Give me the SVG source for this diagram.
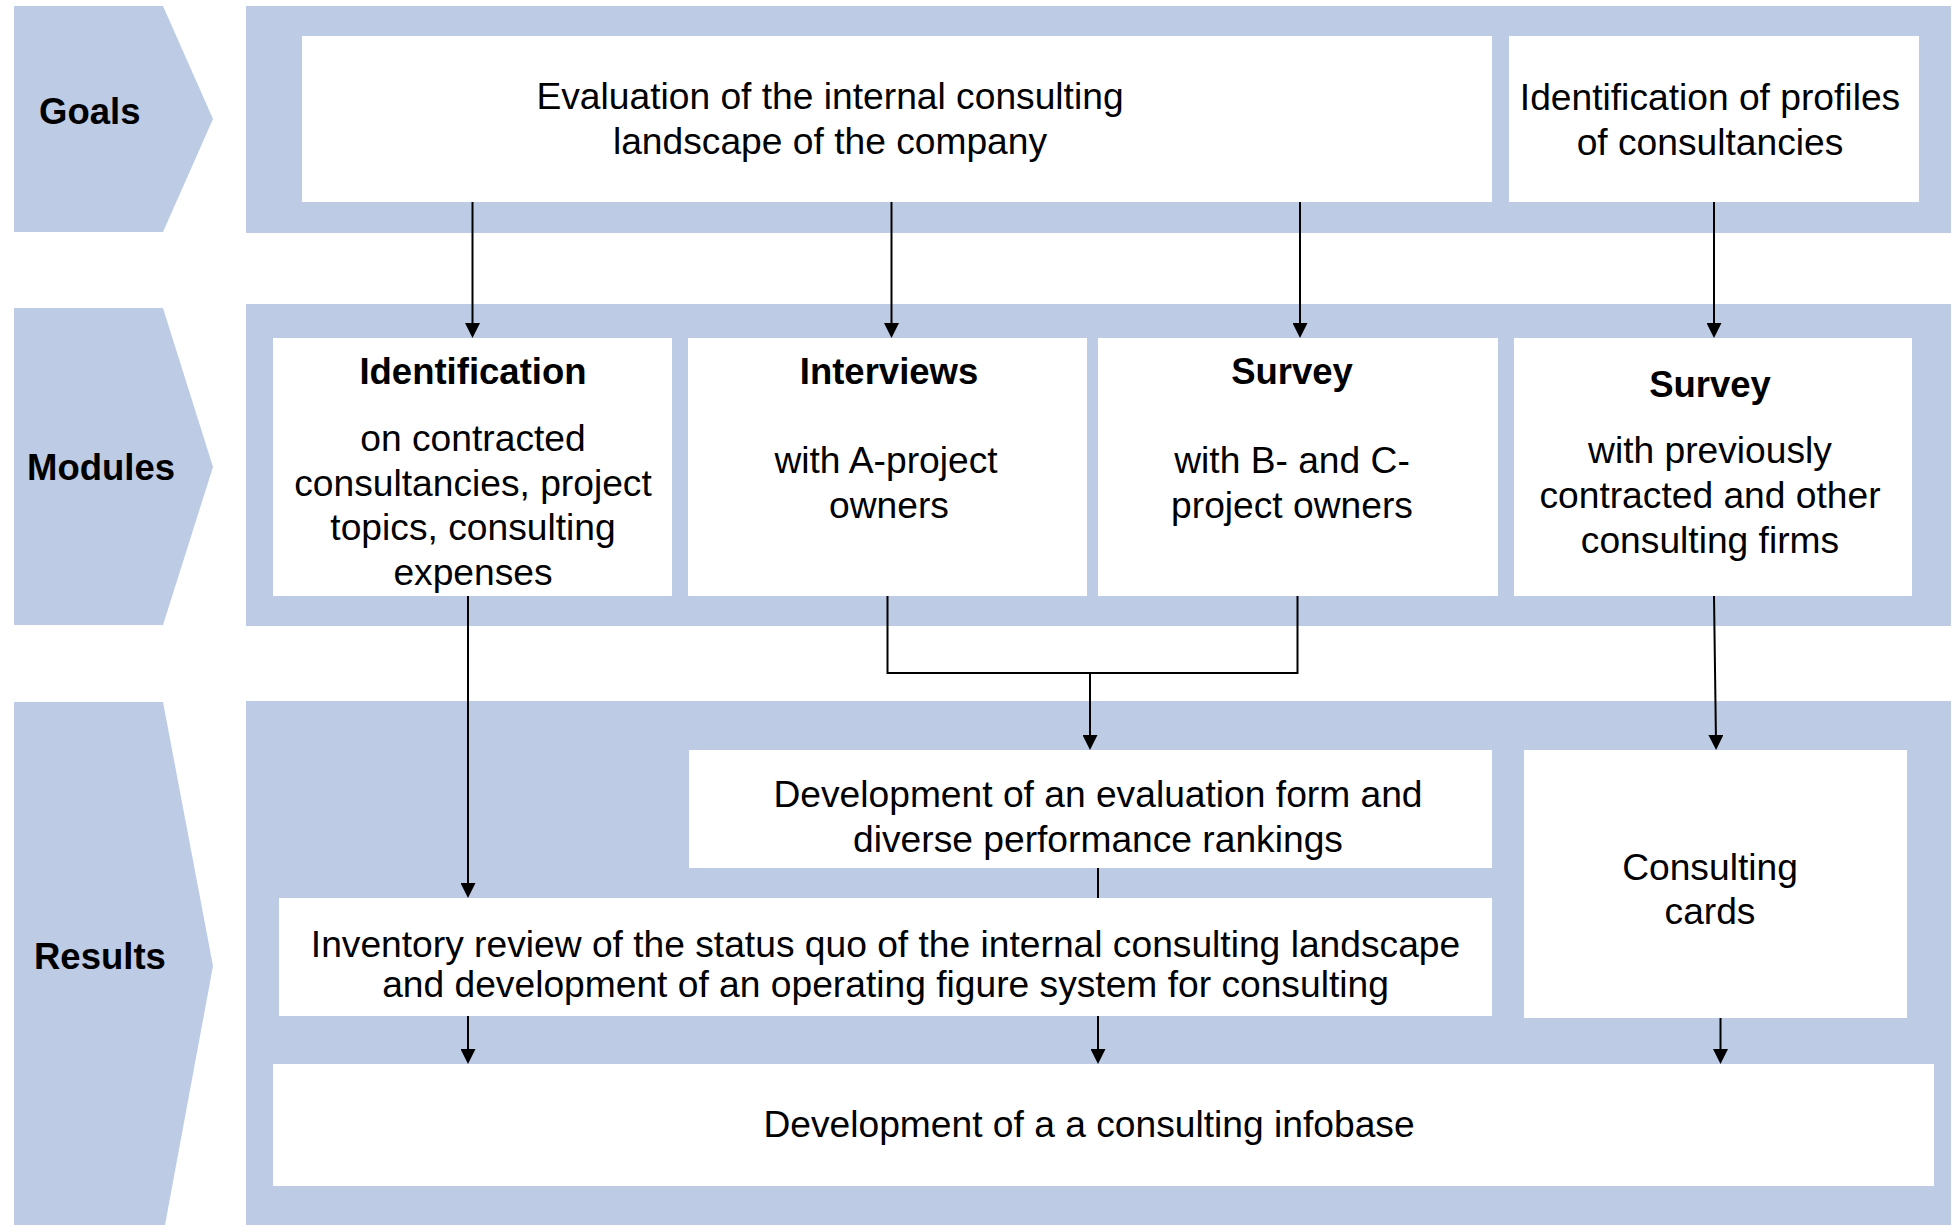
<svg xmlns="http://www.w3.org/2000/svg" width="1955" height="1225" viewBox="0 0 1955 1225">
  <style>
    .band { fill: #BDCBE4; }
    .box { fill: #FFFFFF; }
    .lbl { font-family: "Liberation Sans", Arial, sans-serif; font-weight: bold; font-size: 36.5px; fill: #000; }
    .head { font-family: "Liberation Sans", Arial, sans-serif; font-weight: bold; font-size: 36.5px; fill: #000; text-anchor: middle; }
    .txt { font-family: "Liberation Sans", Arial, sans-serif; font-size: 37.2px; fill: #000; text-anchor: middle; }
    .conn { fill: none; stroke: #000; stroke-width: 2; }
  </style>
  <defs>
    <marker id="arrow" markerUnits="userSpaceOnUse" markerWidth="15" markerHeight="15" viewBox="0 0 15 15" refX="7" refY="7.5" orient="auto">
      <path d="M0,0 L15,7.5 L0,15 z" fill="#000"/>
    </marker>
  </defs>

  <rect width="1955" height="1225" fill="#FFFFFF"/>

  <!-- Row chevrons -->
  <g id="goals-label">
    <polygon class="band" points="14,6 163,6 213,119 163,232 14,232"/>
    <text class="lbl" x="39" y="124">Goals</text>
  </g>
  <g id="modules-label">
    <polygon class="band" points="14,308 163,308 213,467 163,625 14,625"/>
    <text class="lbl" x="27" y="480">Modules</text>
  </g>
  <g id="results-label">
    <polygon class="band" points="14,702 163,702 213,966 165,1225 14,1225"/>
    <text class="lbl" x="34" y="969">Results</text>
  </g>

  <!-- Row backgrounds -->
  <g id="row-bands">
    <rect class="band" x="246" y="6" width="1705" height="227"/>
    <rect class="band" x="246" y="304" width="1705" height="322"/>
    <rect class="band" x="246" y="701" width="1705" height="524"/>
  </g>

  <!-- Goals -->
  <g id="goal-evaluation">
    <rect class="box" x="302" y="36" width="1190" height="166"/>
    <text class="txt" x="830" y="109">Evaluation of the internal consulting</text>
    <text class="txt" x="830" y="154">landscape of the company</text>
  </g>
  <g id="goal-profiles">
    <rect class="box" x="1509" y="36" width="410" height="166"/>
    <text class="txt" x="1710" y="110">Identification of profiles</text>
    <text class="txt" x="1710" y="155">of consultancies</text>
  </g>

  <!-- Modules -->
  <g id="module-identification">
    <rect class="box" x="273" y="338" width="399" height="258"/>
    <text class="head" x="473" y="384">Identification</text>
    <text class="txt" x="473" y="451">on contracted</text>
    <text class="txt" x="473" y="495.5">consultancies, project</text>
    <text class="txt" x="473" y="540">topics, consulting</text>
    <text class="txt" x="473" y="584.5">expenses</text>
  </g>
  <g id="module-interviews">
    <rect class="box" x="688" y="338" width="399" height="258"/>
    <text class="head" x="889" y="384">Interviews</text>
    <text class="txt" x="886" y="472.5">with A-project</text>
    <text class="txt" x="889" y="517.5">owners</text>
  </g>
  <g id="module-survey-bc">
    <rect class="box" x="1098" y="338" width="400" height="258"/>
    <text class="head" x="1292" y="384">Survey</text>
    <text class="txt" x="1292" y="472.5">with B- and C-</text>
    <text class="txt" x="1292" y="517.5">project owners</text>
  </g>
  <g id="module-survey-firms">
    <rect class="box" x="1514" y="338" width="398" height="258"/>
    <text class="head" x="1710" y="397">Survey</text>
    <text class="txt" x="1710" y="463">with previously</text>
    <text class="txt" x="1710" y="508">contracted and other</text>
    <text class="txt" x="1710" y="553">consulting firms</text>
  </g>

  <!-- Results -->
  <g id="result-evaluation-form">
    <rect class="box" x="689" y="750" width="803" height="118"/>
    <text class="txt" x="1098" y="806.5">Development of an evaluation form and</text>
    <text class="txt" x="1098" y="851.5">diverse performance rankings</text>
  </g>
  <g id="result-inventory">
    <rect class="box" x="279" y="898" width="1213" height="118"/>
    <text class="txt" x="885.5" y="956.5">Inventory review of the status quo of the internal consulting landscape</text>
    <text class="txt" x="885.5" y="996.5">and development of an operating figure system for consulting</text>
  </g>
  <g id="result-cards">
    <rect class="box" x="1524" y="750" width="383" height="268"/>
    <text class="txt" x="1710" y="880">Consulting</text>
    <text class="txt" x="1710" y="924">cards</text>
  </g>
  <g id="result-infobase">
    <rect class="box" x="273" y="1064" width="1661" height="122"/>
    <text class="txt" x="1089" y="1137">Development of a a consulting infobase</text>
  </g>

  <!-- Connectors -->
  <g id="connectors">
    <line class="conn" x1="472.5" y1="202" x2="472.5" y2="330" marker-end="url(#arrow)"/>
    <line class="conn" x1="891.5" y1="202" x2="891.5" y2="330" marker-end="url(#arrow)"/>
    <line class="conn" x1="1300" y1="202" x2="1300" y2="330" marker-end="url(#arrow)"/>
    <line class="conn" x1="1714" y1="202" x2="1714" y2="330" marker-end="url(#arrow)"/>

    <line class="conn" x1="468" y1="596" x2="468" y2="890" marker-end="url(#arrow)"/>
    <polyline class="conn" points="887.5,596 887.5,673 1297.5,673 1297.5,596"/>
    <line class="conn" x1="1090" y1="673" x2="1090" y2="742" marker-end="url(#arrow)"/>
    <line class="conn" x1="1714" y1="596" x2="1716" y2="742" marker-end="url(#arrow)"/>

    <line class="conn" x1="1098" y1="868" x2="1098" y2="898"/>

    <line class="conn" x1="468" y1="1016" x2="468" y2="1056" marker-end="url(#arrow)"/>
    <line class="conn" x1="1098" y1="1016" x2="1098" y2="1056" marker-end="url(#arrow)"/>
    <line class="conn" x1="1720.5" y1="1018" x2="1720.5" y2="1056" marker-end="url(#arrow)"/>
  </g>
</svg>
